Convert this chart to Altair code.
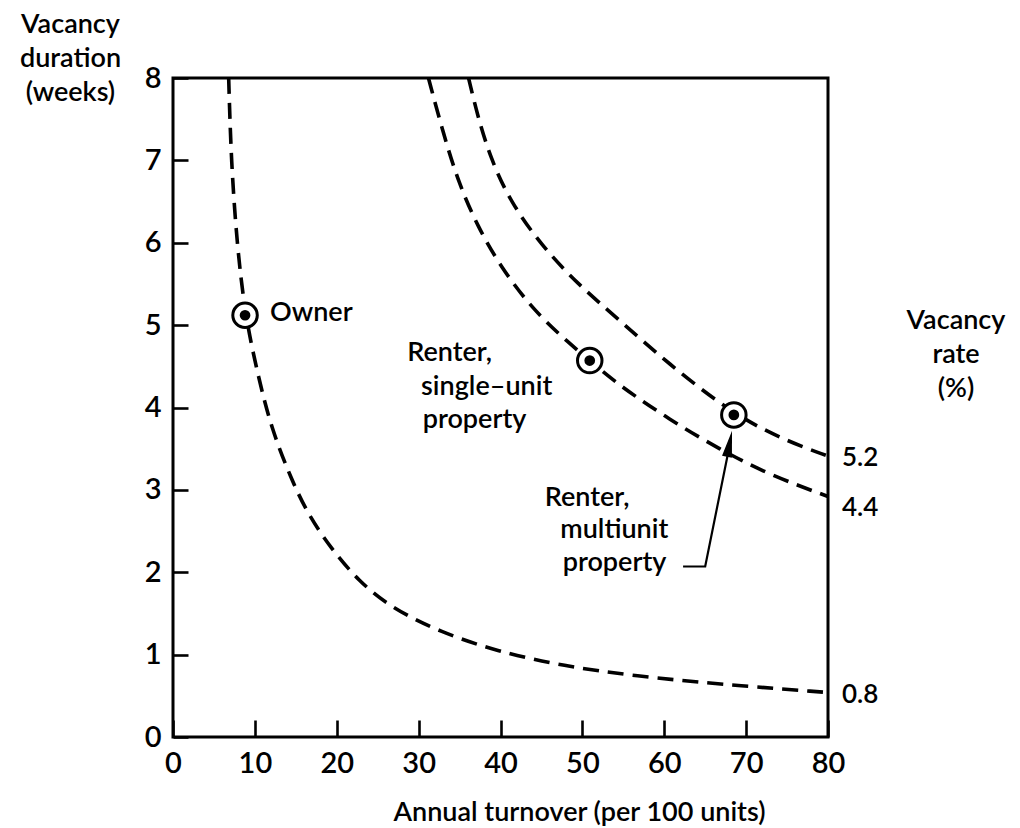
import altair as alt
import pandas as pd

FONT = "Lato"

# Curves (turnover, weeks)
owner_x = [6.8, 7.1, 7.8, 8.8, 10.4, 12.0, 14.4, 16.5, 19.3, 22.6, 26.6, 32.7, 39.6, 47.7, 56.5, 66.8, 80.0]
owner_y = [8.0, 7.0, 6.0, 5.12, 4.38, 3.75, 3.14, 2.70, 2.29, 1.90, 1.57, 1.27, 1.04, 0.86, 0.74, 0.64, 0.54]

r44_x = [31.2, 33.0, 34.9, 37.2, 40.0, 44.0, 48.5, 50.9, 54.6, 60.7, 66.8, 72.9, 80.0]
r44_y = [8.0, 7.33, 6.72, 6.20, 5.71, 5.18, 4.77, 4.57, 4.26, 3.85, 3.49, 3.18, 2.92]

r52_x = [36.1, 37.2, 38.8, 41.2, 44.9, 49.4, 54.3, 60.4, 68.5, 75.0, 80.0]
r52_y = [8.0, 7.54, 7.02, 6.50, 5.98, 5.50, 5.08, 4.54, 3.91, 3.59, 3.41]

# Highlighted points
pt_x = [8.8, 50.9, 68.5]
pt_y = [5.12, 4.57, 3.91]

# Rate labels at the curve ends
rate_text = ["5.2", "4.4", "0.8"]
rate_y = [3.39, 2.78, 0.51]

# Annotations
ann_text = ["Owner", "Renter,", "single\u2013unit", "property", "Renter,", "multiunit", "property"]
ann_x = [11.85, 28.6, 30.3, 30.5, 45.4, 47.3, 47.6]
ann_y = [5.05, 4.57, 4.15, 3.75, 2.81, 2.41, 2.02]

# Arrow pointing at the multiunit point
arrow_x = [62.3, 65.0, 67.9]
arrow_y = [2.07, 2.07, 3.50]
arrowhead_x = [67.97]
arrowhead_y = [3.56]

# Axis values
x_values = [0, 10, 20, 30, 40, 50, 60, 70, 80]
y_values = [0, 1, 2, 3, 4, 5, 6, 7, 8]

W, H = 655, 659
XT, YT = 17, 15  # inward tick lengths (px)

curves = pd.concat([
    pd.DataFrame({"x": owner_x, "y": owner_y, "curve": "0.8"}),
    pd.DataFrame({"x": r44_x, "y": r44_y, "curve": "4.4"}),
    pd.DataFrame({"x": r52_x, "y": r52_y, "curve": "5.2"}),
], ignore_index=True)
pts = pd.DataFrame({"x": pt_x, "y": pt_y})
rates = pd.DataFrame({"x": [80.0] * 3, "y": rate_y, "t": rate_text})
ann = pd.DataFrame({"x": ann_x, "y": ann_y, "t": ann_text})
arrow = pd.DataFrame({"x": arrow_x, "y": arrow_y, "o": [0, 1, 2]})
head = pd.DataFrame({"x": arrowhead_x, "y": arrowhead_y})
rtitle = pd.DataFrame({"x": [80.0], "y": [4.95], "t": ["Vacancy\nrate\n(%)"]})

xs = alt.Scale(domain=[0, 80], nice=False, zero=False)
ys = alt.Scale(domain=[0, 8], nice=False, zero=False)

# Axes pulled inside the frame by the tick length so that ticks point inward
xaxis = alt.Axis(values=x_values, grid=False, domain=False,
                 ticks=True, tickSize=XT, tickWidth=2.6, tickColor="black", offset=-XT,
                 title="Annual turnover (per 100 units)",
                 titleX=406, titleY=83 + XT, titleBaseline="alphabetic", titleAlign="center",
                 labelFontSize=29, labelPadding=12, labelFlush=False)
yaxis = alt.Axis(values=y_values, grid=False, domain=False,
                 ticks=True, tickSize=YT, tickWidth=2.6, tickColor="black", offset=-YT,
                 title=["Vacancy", "duration", "(weeks)"], titleAngle=0,
                 titleX=-103 - YT, titleY=-46, titleAlign="center", titleBaseline="alphabetic",
                 titleLineHeight=34, labelFontSize=29, labelPadding=12, labelFlush=False)

X = alt.X("x:Q", scale=xs, axis=xaxis)
Y = alt.Y("y:Q", scale=ys, axis=yaxis)

lines = alt.Chart(curves).mark_line(
    strokeDash=[16, 9], strokeWidth=3.6, color="black", interpolate="basis"
).encode(x=X, y=Y, detail="curve:N", order="x:Q")

rings = alt.Chart(pts).mark_point(shape="circle", size=600, filled=True, fill="white",
                                  stroke="black", strokeWidth=3, opacity=1).encode(x=X, y=Y)
dots = alt.Chart(pts).mark_point(shape="circle", size=115, filled=True, color="black",
                                 opacity=1).encode(x=X, y=Y)

arrow_line = alt.Chart(arrow).mark_line(color="black", strokeWidth=2.2).encode(x=X, y=Y, order="o:Q")
arrow_head = alt.Chart(head).mark_point(shape="M0,-1L0.38,1L-0.38,1Z", angle=11, size=700,
                                        filled=True, color="black", opacity=1).encode(x=X, y=Y)

ann_t = alt.Chart(ann).mark_text(font=FONT, fontSize=27, fontWeight=600, align="left",
                                 baseline="alphabetic", color="black").encode(x=X, y=Y, text="t:N")
rate_t = alt.Chart(rates).mark_text(font=FONT, fontSize=26, fontWeight=600, align="left",
                                    baseline="middle", dx=14, color="black").encode(x=X, y=Y, text="t:N")
right_title = alt.Chart(rtitle).mark_text(font=FONT, fontSize=27, fontWeight=600, align="center",
                                          baseline="alphabetic", dx=128, lineBreak="\n",
                                          lineHeight=34, color="black").encode(x=X, y=Y, text="t:N")

chart = alt.layer(lines, rings, dots, arrow_line, arrow_head,
                  ann_t, rate_t, right_title).properties(
    width=W, height=H,
    autosize=alt.AutoSizeParams(type="none"),
    padding={"left": 173, "top": 78, "right": 192, "bottom": 91},
    background="white",
).configure_view(stroke="black", strokeWidth=3).configure_axis(
    labelColor="black", titleColor="black",
    labelFont=FONT, titleFont=FONT, titleFontSize=27, titleFontWeight=600, labelFontWeight=600,
)

chart.save("out.html", embed_options={"renderer": "svg", "actions": False})
